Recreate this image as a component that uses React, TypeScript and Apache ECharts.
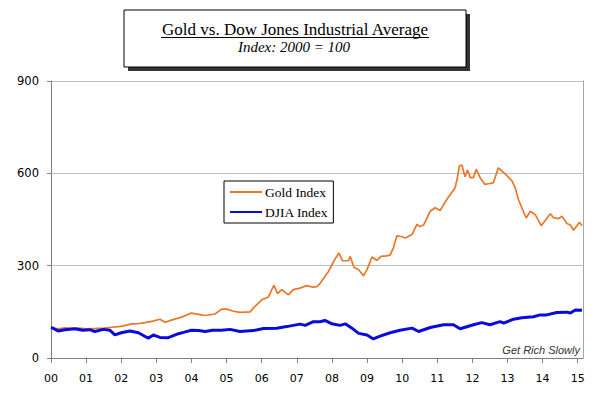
import React, { useEffect, useRef } from "react";
import * as echarts from "echarts";

const yearTicks = [0, 1, 2, 3, 4, 5, 6, 7, 8, 9, 10, 11, 12, 13, 14, 15];

const goldYears = [0.0, 0.1, 0.2, 0.4, 0.6, 0.8, 1.0, 1.3, 1.5, 1.73, 2.0, 2.3, 2.5, 2.68, 2.9, 3.1, 3.25, 3.45, 3.7, 4.0, 4.2, 4.39, 4.67, 4.86, 5.0, 5.2, 5.38, 5.67, 5.76, 6.0, 6.19, 6.3, 6.35, 6.45, 6.57, 6.76, 6.9, 7.09, 7.28, 7.45, 7.57, 7.66, 7.9, 8.09, 8.2, 8.3, 8.47, 8.52, 8.63, 8.76, 8.9, 9.0, 9.14, 9.28, 9.4, 9.56, 9.66, 9.75, 9.85, 10.0, 10.09, 10.28, 10.42, 10.51, 10.61, 10.8, 10.94, 11.08, 11.27, 11.51, 11.58, 11.63, 11.7, 11.79, 11.86, 11.94, 12.03, 12.11, 12.22, 12.36, 12.5, 12.6, 12.74, 12.98, 13.13, 13.22, 13.31, 13.53, 13.65, 13.79, 13.96, 14.22, 14.31, 14.46, 14.55, 14.69, 14.79, 14.88, 15.05, 15.12];
const goldValues = [100, 97, 95, 98, 96, 97, 95, 96, 97, 100, 103, 111, 112, 115, 120, 126, 116, 124, 132, 146, 142, 138, 143, 159, 159, 152, 148, 150, 162, 189, 198, 225, 236, 209, 222, 205, 222, 227, 235, 230, 232, 242, 281, 322, 341, 316, 316, 330, 294, 287, 267, 287, 328, 317, 330, 332, 335, 358, 397, 394, 390, 401, 434, 427, 432, 477, 488, 479, 515, 553, 591, 624, 627, 589, 611, 586, 586, 613, 586, 564, 567, 570, 618, 593, 575, 553, 515, 455, 477, 466, 430, 469, 456, 453, 461, 437, 432, 415, 441, 430];

const djiaYears = [0.0, 0.2, 0.4, 0.68, 0.9, 1.1, 1.25, 1.49, 1.68, 1.82, 2.0, 2.25, 2.49, 2.77, 2.91, 3.1, 3.34, 3.63, 3.8, 4.0, 4.2, 4.39, 4.6, 4.86, 5.1, 5.38, 5.76, 6.05, 6.43, 6.71, 7.09, 7.24, 7.47, 7.66, 7.8, 8.0, 8.23, 8.38, 8.57, 8.76, 9.0, 9.18, 9.37, 9.66, 9.94, 10.28, 10.47, 10.8, 11.18, 11.46, 11.65, 12.03, 12.27, 12.5, 12.79, 12.89, 13.17, 13.41, 13.74, 13.93, 14.12, 14.4, 14.69, 14.79, 14.93, 15.12];
const djiaValues = [100, 88, 92, 95, 90, 92, 86, 93, 90, 75, 82, 88, 82, 64, 75, 67, 66, 79, 84, 90, 89, 86, 90, 90, 93, 86, 89, 96, 97, 102, 110, 106, 118, 118, 122, 111, 106, 111, 97, 80, 75, 62, 71, 82, 90, 97, 86, 99, 108, 108, 95, 108, 115, 108, 118, 113, 126, 131, 134, 140, 140, 148, 149, 146, 156, 155];

const pair = (xs: number[], ys: number[]) => xs.map((x, i) => [x, ys[i]]);

export default function App() {
  const ref = useRef<HTMLDivElement>(null);
  useEffect(() => {
    document.body.style.margin = "0";
    const chart = echarts.init(ref.current!, null, { renderer: "svg" });
    const sans = "DejaVu Sans";
    const serif = "Liberation Serif";
    chart.setOption({
      animation: false,
      backgroundColor: "#ffffff",
      grid: { left: 51, right: 17, top: 81, bottom: 39, containLabel: false },
      legend: {
        orient: "vertical",
        left: 224,
        top: 181,
        padding: [4, 5, 4, 5],
        itemGap: 6,
        itemWidth: 32,
        itemHeight: 14,
        borderColor: "#000",
        borderWidth: 1,
        backgroundColor: "#fff",
        selectedMode: false,
        itemStyle: { color: "rgba(0,0,0,0)", borderWidth: 0, opacity: 0 },
        data: ["Gold Index", "DJIA Index"],
        textStyle: { fontFamily: serif, fontSize: 13.5, color: "#000", padding: [0, 0, 0, -2] },
      },
      xAxis: {
        type: "value",
        min: 0,
        max: 15.15,
        interval: 1,
        axisLine: { show: true, lineStyle: { color: "#7f7f7f", width: 1 } },
        axisTick: { show: true, length: 5, customValues: yearTicks, lineStyle: { color: "#7f7f7f" } },
        axisLabel: {
          customValues: yearTicks,
          margin: 15,
          fontFamily: sans,
          fontSize: 11,
          color: "#000",
          formatter: (v: number) => String(Math.round(v)).padStart(2, "0"),
        },
        splitLine: { show: false },
      },
      yAxis: [
        {
          type: "value",
          min: 0,
          max: 900,
          interval: 300,
          axisLine: { show: true, lineStyle: { color: "#7f7f7f", width: 1 } },
          axisTick: { show: true, length: 4, lineStyle: { color: "#7f7f7f" } },
          axisLabel: { margin: 12, fontFamily: sans, fontSize: 11.5, color: "#000" },
          splitLine: { show: true, lineStyle: { color: "#c0c0c0", width: 1 } },
        },
        {
          type: "value",
          position: "right",
          min: 0,
          max: 900,
          interval: 300,
          axisLine: { show: true, lineStyle: { color: "#a6a6a6", width: 1 } },
          axisTick: { show: false },
          axisLabel: { show: false },
          splitLine: { show: false },
        },
      ],
      series: [
        {
          name: "Gold Index",
          type: "line",
          showSymbol: false,
          symbol: "none",
          color: "#EC7628",
          lineStyle: { color: "#EC7628", width: 1.7 },
          data: pair(goldYears, goldValues),
          z: 2,
        },
        {
          name: "DJIA Index",
          type: "line",
          showSymbol: false,
          symbol: "none",
          color: "#0A0ADC",
          lineStyle: { color: "#0A0ADC", width: 3 },
          data: pair(djiaYears, djiaValues),
          z: 3,
        },
      ],
      graphic: [
        { type: "rect", shape: { x: 128, y: 14, width: 342, height: 57 }, style: { fill: "#333" }, z: 10 },
        { type: "rect", shape: { x: 124, y: 10, width: 342, height: 57 }, style: { fill: "#fff", stroke: "#000", lineWidth: 1 }, z: 11 },
        {
          type: "text",
          x: 295,
          y: 29.5,
          z: 12,
          style: { text: "Gold vs. Dow Jones Industrial Average", fontFamily: serif, fontSize: 17, fill: "#000", align: "center", verticalAlign: "middle" },
        },
        { type: "line", shape: { x1: 161, y1: 37.5, x2: 429, y2: 37.5 }, style: { stroke: "#000", lineWidth: 1 }, z: 12 },
        {
          type: "text",
          x: 294,
          y: 47,
          z: 12,
          style: { text: "Index: 2000 = 100", fontFamily: serif, fontStyle: "italic", fontSize: 15, fill: "#000", align: "center", verticalAlign: "middle" },
        },
        {
          type: "text",
          x: 580,
          y: 350,
          z: 12,
          style: { text: "Get Rich Slowly", fontFamily: "Liberation Sans", fontStyle: "italic", fontSize: 11, fill: "#333", align: "right", verticalAlign: "middle" },
        },
      ],
    });
    return () => chart.dispose();
  }, []);
  return <div ref={ref} style={{ position: "fixed", left: 0, top: 0, width: 600, height: 397 }} />;
}
